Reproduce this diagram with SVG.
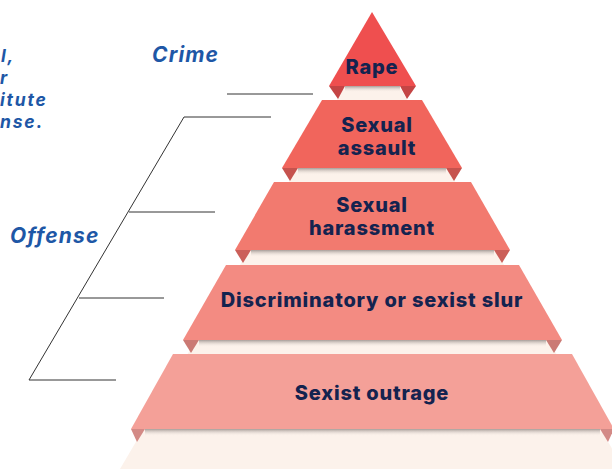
<svg xmlns="http://www.w3.org/2000/svg" width="612" height="469" viewBox="0 0 612 469">
<defs>
<style>
.lbl{font-family:Inter,"Liberation Sans",sans-serif;font-weight:800;font-size:20px;fill:#14234F;text-anchor:middle;letter-spacing:0.8px}
.side{font-family:Inter,"Open Sans","Liberation Sans",sans-serif;font-weight:700;font-style:italic;font-size:21px;fill:#1E57A6;letter-spacing:1.1px}
.note{font-family:Inter,"Open Sans","Liberation Sans",sans-serif;font-weight:700;font-style:italic;font-size:17.5px;fill:#1E57A6;letter-spacing:1.8px}
.ln{stroke:#333;stroke-width:1;fill:none}
</style>
<linearGradient id="sh" x1="0" y1="0" x2="0" y2="1">
<stop offset="0" stop-color="#8a807c" stop-opacity="0.75"/>
<stop offset="1" stop-color="#FCF2EB" stop-opacity="0"/>
</linearGradient>
</defs>
<rect width="612" height="469" fill="#ffffff"/>
<g id="background">
<polygon points="372,40 624,469 120,469" fill="#FCF2EB"/>
<rect x="345" y="86" width="55" height="6" fill="url(#sh)"/>
<rect x="298" y="168" width="148" height="7" fill="url(#sh)"/>
<rect x="251" y="250" width="243" height="7" fill="url(#sh)"/>
<rect x="199" y="340" width="347" height="7" fill="url(#sh)"/>
<rect x="145" y="429" width="455" height="7" fill="url(#sh)"/>
</g>
<g id="connectors">
<polyline class="ln" points="227,94 313,94"/>
<polyline class="ln" points="271,117 184,117 29,380 116,380"/>
<polyline class="ln" points="129,212 215,212"/>
<polyline class="ln" points="79,298 164,298"/>
</g>
<g id="crime-label"><text class="side" x="152" y="62">Crime</text></g>
<g id="offense-label"><text class="side" x="10" y="243">Offense</text></g>
<g id="note-text">
<text class="note" x="1" y="62">l,</text>
<text class="note" x="0" y="84">r</text>
<text class="note" x="0" y="106">itute</text>
<text class="note" x="0" y="128">nse.</text>
</g>
<g id="rape">
<polygon points="329,86 345,86 338,99" fill="#C44545"/>
<polygon points="400,86 416,86 407,99" fill="#C44545"/>
<polygon points="372,12 416,86 329,86" fill="#EF4F4F"/>
<text class="lbl" x="372" y="74">Rape</text>
</g>
<g id="sexual-assault">
<polygon points="282,168 298,168 290,181" fill="#C6534E"/>
<polygon points="446,168 462,168 454,181" fill="#C6534E"/>
<polygon points="322,100 422,100 462,168 282,168" fill="#F1655C"/>
<text class="lbl" x="377" y="132">Sexual</text>
<text class="lbl" x="377" y="155">assault</text>
</g>
<g id="sexual-harassment">
<polygon points="235,250 251,250 243,263" fill="#CB5F59"/>
<polygon points="494,250 510,250 502,263" fill="#CB5F59"/>
<polygon points="274,182 471,182 510,250 235,250" fill="#F27A6F"/>
<text class="lbl" x="372" y="212">Sexual</text>
<text class="lbl" x="372" y="235">harassment</text>
</g>
<g id="discriminatory">
<polygon points="183,340 199,340 191,353" fill="#CB7A74"/>
<polygon points="546,340 562,340 554,353" fill="#CB7A74"/>
<polygon points="226,265 519,265 562,340 183,340" fill="#F38B82"/>
<text class="lbl" x="372" y="307">Discriminatory or sexist slur</text>
</g>
<g id="sexist-outrage">
<polygon points="131,429 145,429 137,442" fill="#D38A86"/>
<polygon points="600,429 614,429 608,442" fill="#D38A86"/>
<polygon points="173,354 572,354 614,429 131,429" fill="#F4A098"/>
<text class="lbl" x="372" y="400">Sexist outrage</text>
</g>
</svg>
